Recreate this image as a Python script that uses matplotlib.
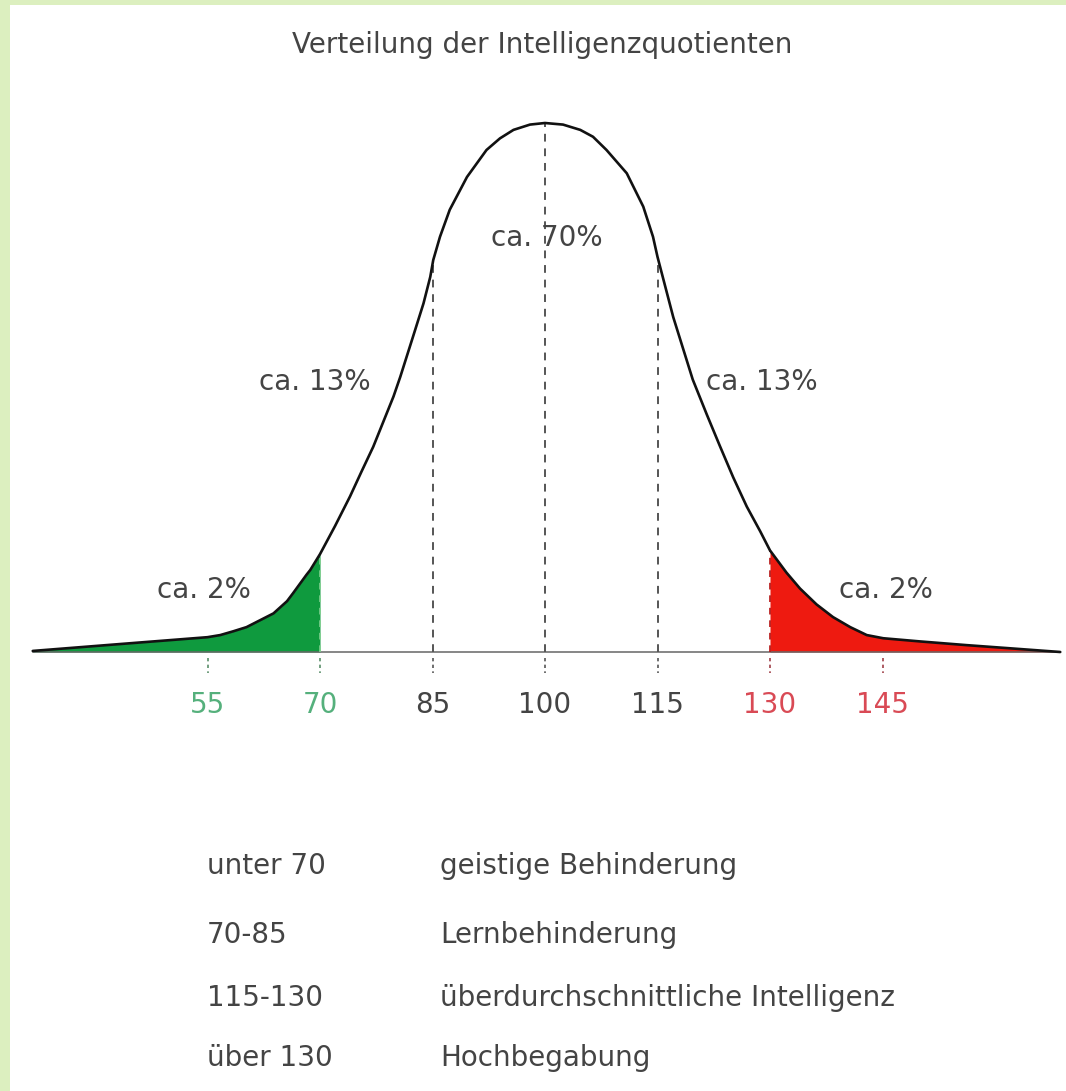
import numpy as np
import matplotlib
matplotlib.use("Agg")
import matplotlib.pyplot as plt
from matplotlib.patches import Rectangle

# ---- data ----
iq = [31.7, 43.3, 55.0, 56.7, 58.4, 60.2, 62.0, 63.8, 65.6, 66.4, 68.2, 68.7,
      70.0, 72.0, 74.0, 75.5, 77.1, 79.8, 80.7, 82.4, 83.8, 84.7, 85.1, 86.0,
      87.3, 89.6, 92.2, 94.0, 95.8, 98.0, 100.0, 102.4, 104.7, 106.4, 108.2,
      110.9, 113.1, 114.4, 115.0, 117.1, 119.7, 121.6, 123.3, 125.1, 126.9,
      128.7, 130.0, 132.2, 134.0, 136.2, 138.4, 140.7, 142.9, 145.1, 150.0,
      156.2, 162.0, 168.7]
height = [0.2, 1.5, 2.8, 3.2, 3.9, 4.7, 6.0, 7.3, 9.6, 11.1, 14.6, 15.5,
          18.5, 23.8, 29.4, 34.0, 38.8, 48.3, 52.0, 59.6, 65.9, 70.9, 74.1, 78.5,
          83.6, 89.8, 94.9, 97.1, 98.7, 99.7, 100.0, 99.7, 98.7, 97.4, 94.9,
          90.5, 84.2, 78.5, 74.7, 63.3, 51.5, 44.8, 39.0, 33.0, 27.5,
          22.8, 19.2, 15.0, 12.0, 9.0, 6.6, 4.7, 3.2, 2.6, 2.0,
          1.3, 0.7, 0.0]

tick_values = [55, 70, 85, 100, 115, 130, 145]
tick_labels = ["55", "70", "85", "100", "115", "130", "145"]
divider_values = [85, 100, 115]
low_cut = 70
high_cut = 130

share_labels = ["ca. 2%", "ca. 13%", "ca. 70%", "ca. 13%", "ca. 2%"]
share_pos = [(54.5, 11.7), (69.3, 51.0), (100.3, 78.3), (128.9, 51.0), (145.5, 11.7)]

legend_ranges = ["unter 70", "70-85", "115-130", "über 130"]
legend_names = ["geistige Behinderung", "Lernbehinderung",
                "überdurchschnittliche Intelligenz", "Hochbegabung"]

title = "Verteilung der Intelligenzquotienten"

# ---- styling ----
plt.rcParams['font.family'] = ['DejaVu Sans']
FS = 20
W, H = 1066, 1091
fig = plt.figure(figsize=(W / 100, H / 100), dpi=100)
fig.patch.set_facecolor("white")

# light green frame (left and top)
fig.patches.append(Rectangle((0, 0), 10 / W, 1, transform=fig.transFigure,
                             facecolor="#dcefbf", edgecolor="none", zorder=0))
fig.patches.append(Rectangle((0, 1 - 5 / H), 1, 5 / H, transform=fig.transFigure,
                             facecolor="#dcefbf", edgecolor="none", zorder=0))

ax = fig.add_axes([0, 0, 1, 1])
ax.set_facecolor("none")
px_per_iq = 7.5
px_per_h = 5.29
x0 = 100 - 545 / px_per_iq
x1 = 100 + (W - 545) / px_per_iq
y1 = 652 / px_per_h
y0 = -(H - 652) / px_per_h
ax.set_xlim(x0, x1)
ax.set_ylim(y0, y1)
ax.axis("off")

iq_a = np.array(iq)
h_a = np.array(height)

green = "#0f9a3e"
red = "#ee1a10"
text_col = "#444444"

# fills
ax.fill_between(iq_a, 0, h_a, where=iq_a <= low_cut, color=green, lw=0, zorder=2)
ax.fill_between(iq_a, 0, h_a, where=iq_a >= high_cut, color=red, lw=0, zorder=2)

# baseline
ax.plot([iq[0], iq[-1]], [0, 0], color="#666666", lw=1.1, zorder=3)

# dashed dividers
for v in divider_values:
    top = np.interp(v, iq_a, h_a)
    ax.plot([v, v], [0, top], color="#555555", lw=1.4, ls=(0, (4, 3.5)), zorder=3)
ax.plot([low_cut, low_cut], [0, np.interp(low_cut, iq_a, h_a)],
        color="#7fd08f", lw=1.2, ls=(0, (4, 3.5)), zorder=3)
ax.plot([high_cut, high_cut], [0, np.interp(high_cut, iq_a, h_a)],
        color="#b51010", lw=1.2, ls=(0, (4, 3.5)), zorder=3)

# curve
ax.plot(iq_a, h_a, color="#111111", lw=1.9, zorder=4,
        solid_joinstyle="round", solid_capstyle="round")

# ticks and labels
tick_colors = []
for v in tick_values:
    if v <= low_cut:
        tick_colors.append(("#55b07c", "#5a8f6a"))
    elif v >= high_cut:
        tick_colors.append(("#d94a55", "#a04048"))
    else:
        tick_colors.append((text_col, "#555555"))
for v, lab, (lc, tc) in zip(tick_values, tick_labels, tick_colors):
    ax.plot([v, v], [-1.2, -3.9], color=tc, lw=1.2, ls=(0, (2, 2)), zorder=3)
    ax.text(v, -10.0, lab, ha="center", va="center", fontsize=FS, color=lc)

# share labels
for lab, (x, y) in zip(share_labels, share_pos):
    ax.text(x, y, lab, ha="center", va="center", fontsize=FS, color=text_col,
            zorder=5)

# title
fig.text(542 / W, 1 - 45 / H, title, ha="center", va="center", fontsize=FS,
         color=text_col)

# legend rows
rows_y = [866, 935, 998, 1058]
for r, n, yy in zip(legend_ranges, legend_names, rows_y):
    fig.text(207 / W, 1 - yy / H, r, ha="left", va="center", fontsize=FS,
             color=text_col)
    fig.text(440 / W, 1 - yy / H, n, ha="left", va="center", fontsize=FS,
             color=text_col)

fig.savefig("out.png", dpi=100)
